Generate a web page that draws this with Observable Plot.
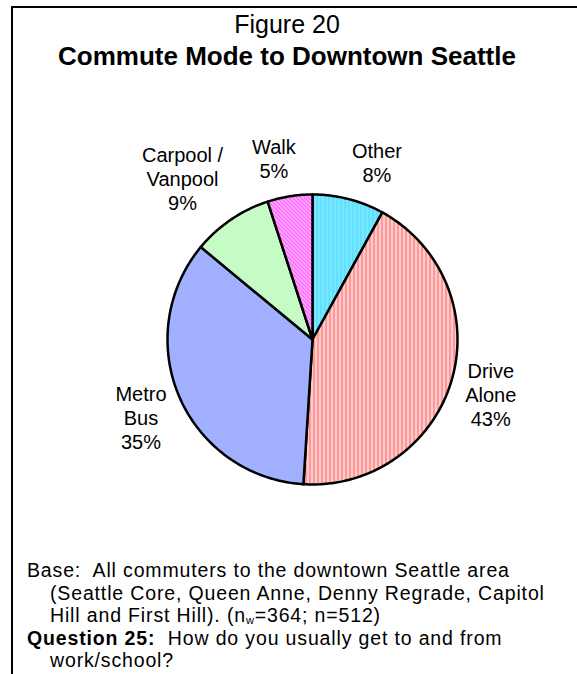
<!DOCTYPE html>
<html>
<head>
<meta charset="utf-8">
<script src="https://cdn.jsdelivr.net/npm/d3@7"></script>
<script src="https://cdn.jsdelivr.net/npm/@observablehq/plot@0.6"></script>
<style>
  html, body { margin: 0; padding: 0; background: #fff; }
  #page { position: relative; width: 577px; height: 674px; overflow: hidden; background: #fff;
          font-family: "Liberation Sans", Arial, sans-serif; color: #000; }
  #frame { position: absolute; left: 11px; top: 6px; width: 700px; height: 700px;
           border-left: 2px solid #000; border-top: 2px solid #000; }
  .title { position: absolute; left: 0; width: 574px; text-align: center; white-space: nowrap; }
  #t1 { top: 10px; font-size: 25px; line-height: 28px; }
  #t2 { top: 41px; font-size: 26px; line-height: 30px; font-weight: bold; }
  #chart { position: absolute; left: 0; top: 75px; }
  #foot { position: absolute; left: 27px; top: 559px; font-size: 19.5px; line-height: 22.5px;
          letter-spacing: 0.85px; white-space: nowrap; }
  #foot .ind { padding-left: 23px; }
  #foot sub { font-size: 11px; line-height: 0; vertical-align: baseline; position: relative; top: 2px; }
</style>
</head>
<body>
<div id="page">
  <div id="frame"></div>
  <div class="title" id="t1">Figure 20</div>
  <div class="title" id="t2">Commute Mode to Downtown Seattle</div>
  <div id="chart"></div>
  <div id="foot">
    <div>Base:&nbsp; All commuters to the downtown Seattle area</div>
    <div class="ind">(Seattle Core, Queen Anne, Denny Regrade, Capitol</div>
    <div class="ind">Hill and First Hill). (n<sub>w</sub>=364; n=512)</div>
    <div><b>Question 25:</b>&nbsp; How do you usually get to and from</div>
    <div class="ind">work/school?</div>
  </div>
</div>
<script>
// ---- data ----
const modes = ["Other", "Drive Alone", "Metro Bus", "Carpool / Vanpool", "Walk"];
const shares = [8, 43, 35, 9, 5];
const nameLines = [["Other"], ["Drive", "Alone"], ["Metro", "Bus"], ["Carpool /", "Vanpool"], ["Walk"]];
const pctLabels = ["8%", "43%", "35%", "9%", "5%"];
const patternIds = ["pOther", "pDrive", "pMetro", "pCarpool", "pWalk"];

// ---- layout constants ----
const W = 577, H = 470;
const CX = 312, CY = 264, R = 145;
const FONT = 20, LINE = 24, GAP = 14;

const arcs = d3.pie().sort(null).value(d => d)(shares);

// slice outlines in unit coordinates (derived from the pie angles)
const slices = arcs.map((a, i) => {
  const n = Math.max(4, Math.ceil((a.endAngle - a.startAngle) / (Math.PI / 180)));
  const pts = [{x: 0, y: 0}];
  for (let k = 0; k <= n; k++) {
    const t = a.startAngle + (a.endAngle - a.startAngle) * k / n;
    pts.push({x: Math.sin(t), y: Math.cos(t)});
  }
  pts.push({x: 0, y: 0});
  return {id: patternIds[i], mode: modes[i], pts};
});

// label positions: just outside the rim on the mid-angle, text box pushed outward
const ctx = document.createElement("canvas").getContext("2d");
ctx.font = `${FONT}px "Liberation Sans", Arial, sans-serif`;
const labels = arcs.map((a, i) => {
  const lines = [...nameLines[i], pctLabels[i]];
  const w = d3.max(lines, l => ctx.measureText(l).width);
  const h = lines.length * LINE;
  const mid = (a.startAngle + a.endAngle) / 2;
  const s = Math.sin(mid), c = Math.cos(mid);
  const px = s * (R + GAP) + Math.sign(s) * Math.min(1, 4 * Math.abs(s)) * w / 2;
  const py = c * (R + GAP) + c * h / 2;
  return {x: px / R, y: py / R, text: lines.join("\n")};
});

const marks = slices.map(s =>
  Plot.line(s.pts, {x: "x", y: "y", fill: `url(#${s.id})`, stroke: "#000",
                    strokeWidth: 2.5, strokeLinejoin: "round", curve: "linear"})
);
marks.push(Plot.text(labels, {x: "x", y: "y", text: "text", fontSize: FONT,
                              lineHeight: LINE / FONT, fill: "#000", textAnchor: "middle"}));

const svg = Plot.plot({
  width: W, height: H,
  marginTop: 0, marginRight: 0, marginBottom: 0, marginLeft: 0,
  x: {domain: [-1, 1], range: [CX - R, CX + R], axis: null},
  y: {domain: [-1, 1], range: [CY + R, CY - R], axis: null},
  style: {fontFamily: '"Liberation Sans", Arial, sans-serif', fontSize: FONT + "px", background: "transparent", overflow: "visible"},
  marks
});

// fill patterns
const defs = d3.select(svg).insert("defs", ":first-child");
function pattern(id, base, cells) {
  const p = defs.append("pattern").attr("id", id).attr("patternUnits", "userSpaceOnUse")
    .attr("width", 4).attr("height", 4);
  p.append("rect").attr("width", 4).attr("height", 4).attr("fill", base).attr("shape-rendering", "crispEdges");
  for (const [x, y, w, h, col] of cells)
    p.append("rect").attr("x", x).attr("y", y).attr("width", w).attr("height", h)
      .attr("fill", col).attr("shape-rendering", "crispEdges");
}
pattern("pDrive", "#FF9999", [[3, 0, 1, 4, "#FFFFFF"]]);
pattern("pOther", "#62E0FF", [[2, 0, 1, 4, "#8FEBFF"]]);
pattern("pMetro", "#99A9FF", [[0, 0, 1, 1, "#C2CCFF"], [2, 2, 1, 1, "#C2CCFF"], [2, 0, 1, 1, "#B0BCFF"], [0, 2, 1, 1, "#B0BCFF"]]);
pattern("pCarpool", "#CCFFCC", [[0, 0, 1, 1, "#FFFFFF"], [2, 2, 1, 1, "#FFFFFF"], [1, 1, 1, 1, "#99F099"], [3, 3, 1, 1, "#99F099"], [3, 1, 1, 1, "#99F099"], [1, 3, 1, 1, "#99F099"]]);
pattern("pWalk", "#FF66FF", [[0, 0, 1, 1, "#FFFFFF"], [1, 1, 1, 1, "#FFFFFF"], [2, 2, 1, 1, "#FFFFFF"], [3, 3, 1, 1, "#FFFFFF"]]);

document.getElementById("chart").appendChild(svg);
</script>
</body>
</html>
